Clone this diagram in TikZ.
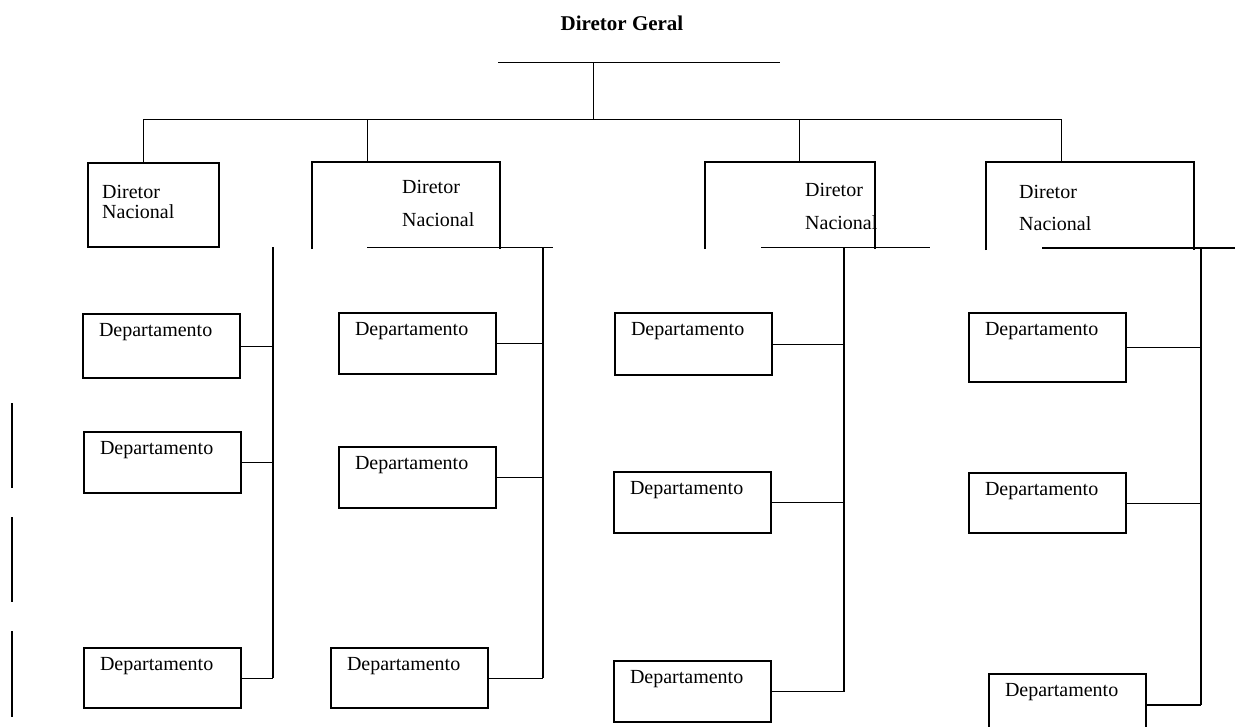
\documentclass[tikz,border=0pt]{standalone}
\usepackage{fontspec}
\setmainfont{Liberation Serif}
\begin{document}
\begin{tikzpicture}[x=1pt,y=-1pt]
    \useasboundingbox (0,0) rectangle (1235,726);

    \tikzstyle{title}=[font=\fontsize{21}{21}\selectfont\bfseries,inner sep=0pt]
    \tikzstyle{dirbox}=[anchor=north west,inner sep=0pt,line width=2pt]
    \tikzstyle{dirtext}=[anchor=north west,inner sep=0pt,align=left]
    \tikzstyle{dept}=[draw=black,line width=2pt,anchor=north west,text width=125pt,align=left,inner xsep=16pt,inner ysep=4pt,text height=18pt,text depth=35pt,font=\fontsize{20}{20}\selectfont]
    \tikzstyle{link}=[draw=black,line width=1pt]
    \tikzstyle{spine}=[draw=black,line width=1.3pt]

    \node[title] (geral) at (622,23) {Diretor Geral};

    % diretores nacionais
    \node[dirbox,draw,minimum width=131pt,minimum height=84pt] (dn1) at (87,162) {};
    \node[dirbox,minimum width=186pt,minimum height=85pt] (dn2) at (312,162) {};
    \node[dirbox,minimum width=168pt,minimum height=85pt] (dn3) at (705,162) {};
    \node[dirbox,minimum width=206pt,minimum height=86pt] (dn4) at (986,162) {};

    \node[dirtext,font=\fontsize{20}{20}\selectfont] (dn1t) at ([shift={(15,23)}]dn1.north west) {Diretor\\Nacional};
    \node[dirtext,font=\fontsize{20}{33}\selectfont] (dn2t) at ([shift={(90,18)}]dn2.north west) {Diretor\\Nacional};
    \node[dirtext,font=\fontsize{20}{33}\selectfont] (dn3t) at ([shift={(100,21)}]dn3.north west) {Diretor\\Nacional};
    \node[dirtext,font=\fontsize{20}{32}\selectfont] (dn4t) at ([shift={(33,23)}]dn4.north west) {Diretor\\Nacional};

    \draw[line width=2pt] (dn2.south west) |- (dn2.north east) -- (dn2.south east);
    \draw[line width=2pt] (dn3.south west) |- (dn3.north east) -- (dn3.south east);
    \draw[line width=2pt] (dn4.south west) |- (dn4.north east) -- (dn4.south east);

    % departamentos
    \node[dept,text depth=38pt] (c1d1) at (82,313) {Departamento};
    \node[dept] (c1d2) at (83,431) {Departamento};
    \node[dept,text depth=34pt] (c1d3) at (83,647) {Departamento};

    \node[dept] (c2d1) at (338,312) {Departamento};
    \node[dept] (c2d2) at (338,446) {Departamento};
    \node[dept,text depth=34pt] (c2d3) at (330,647) {Departamento};

    \node[dept,text depth=36pt] (c3d1) at (614,312) {Departamento};
    \node[dept] (c3d2) at (613,471) {Departamento};
    \node[dept] (c3d3) at (613,660) {Departamento};

    \node[dept,text depth=43pt] (c4d1) at (968,312) {Departamento};
    \node[dept,text depth=34pt] (c4d2) at (968,472) {Departamento};
    \node[dept] (c4d3) at (988,673) {Departamento};

    % arvore de cima
    \coordinate (gl) at (498,62);
    \coordinate (gr) at (780,62);
    \coordinate (gm) at (593,62);
    \coordinate (b1) at (143,119);
    \coordinate (b2) at (367,119);
    \coordinate (b3) at (799,119);
    \coordinate (b4) at (1061,119);

    \draw [link] (gl) -- (gr);
    \draw [link] (gm) -- (gm |- b1);
    \draw [link] (b1) -- (b4);
    \draw [link] (b1) -- (b1 |- dn1.north);
    \draw [link] (b2) -- (b2 |- dn2.north);
    \draw [link] (b3) -- (b3 |- dn3.north);
    \draw [link] (b4) -- (b4 |- dn4.north);

    % colunas
    \coordinate (s1) at (273,247);
    \coordinate (s2) at (543,247);
    \coordinate (s3) at (844,247);
    \coordinate (s4) at (1201,248);
    \coordinate (h2a) at (367,247);
    \coordinate (h2b) at (553,247);
    \coordinate (h3a) at (761,247);
    \coordinate (h3b) at (930,247);
    \coordinate (h4a) at (1042,248);
    \coordinate (h4b) at (1235,248);

    \draw [link] (h2a) -- (h2b);
    \draw [link] (h3a) -- (h3b);
    \draw [link,line width=1.5pt] (h4a) -- (h4b);

    \draw [spine] (s1) -- (s1 |- c1d3.east);
    \draw [spine] (s2) -- (s2 |- c2d3.east);
    \draw [spine] (s3) -- (s3 |- c3d3.east);
    \draw [spine,line width=2pt] (s4) -- (s4 |- c4d3.east);

    \draw [link] (c1d1.east) -- (c1d1.east -| s1);
    \draw [link] (c1d2.east) -- (c1d2.east -| s1);
    \draw [link] (c1d3.east) -- (c1d3.east -| s1);
    \draw [link] (c2d1.east) -- (c2d1.east -| s2);
    \draw [link] (c2d2.east) -- (c2d2.east -| s2);
    \draw [link] (c2d3.east) -- (c2d3.east -| s2);
    \draw [link] (c3d1.east) -- (c3d1.east -| s3);
    \draw [link] (c3d2.east) -- (c3d2.east -| s3);
    \draw [link] (c3d3.east) -- (c3d3.east -| s3);
    \draw [link] (c4d1.east) -- (c4d1.east -| s4);
    \draw [link] (c4d2.east) -- (c4d2.east -| s4);
    \draw [link,line width=2pt] (c4d3.east) -- (c4d3.east -| s4);

    % tracos soltos a esquerda
    \draw [line width=1.5pt] (12,403) -- (12,488);
    \draw [line width=1.5pt] (12,517) -- (12,602);
    \draw [line width=1.5pt] (12,631) -- (12,717);
\end{tikzpicture}
\end{document}
